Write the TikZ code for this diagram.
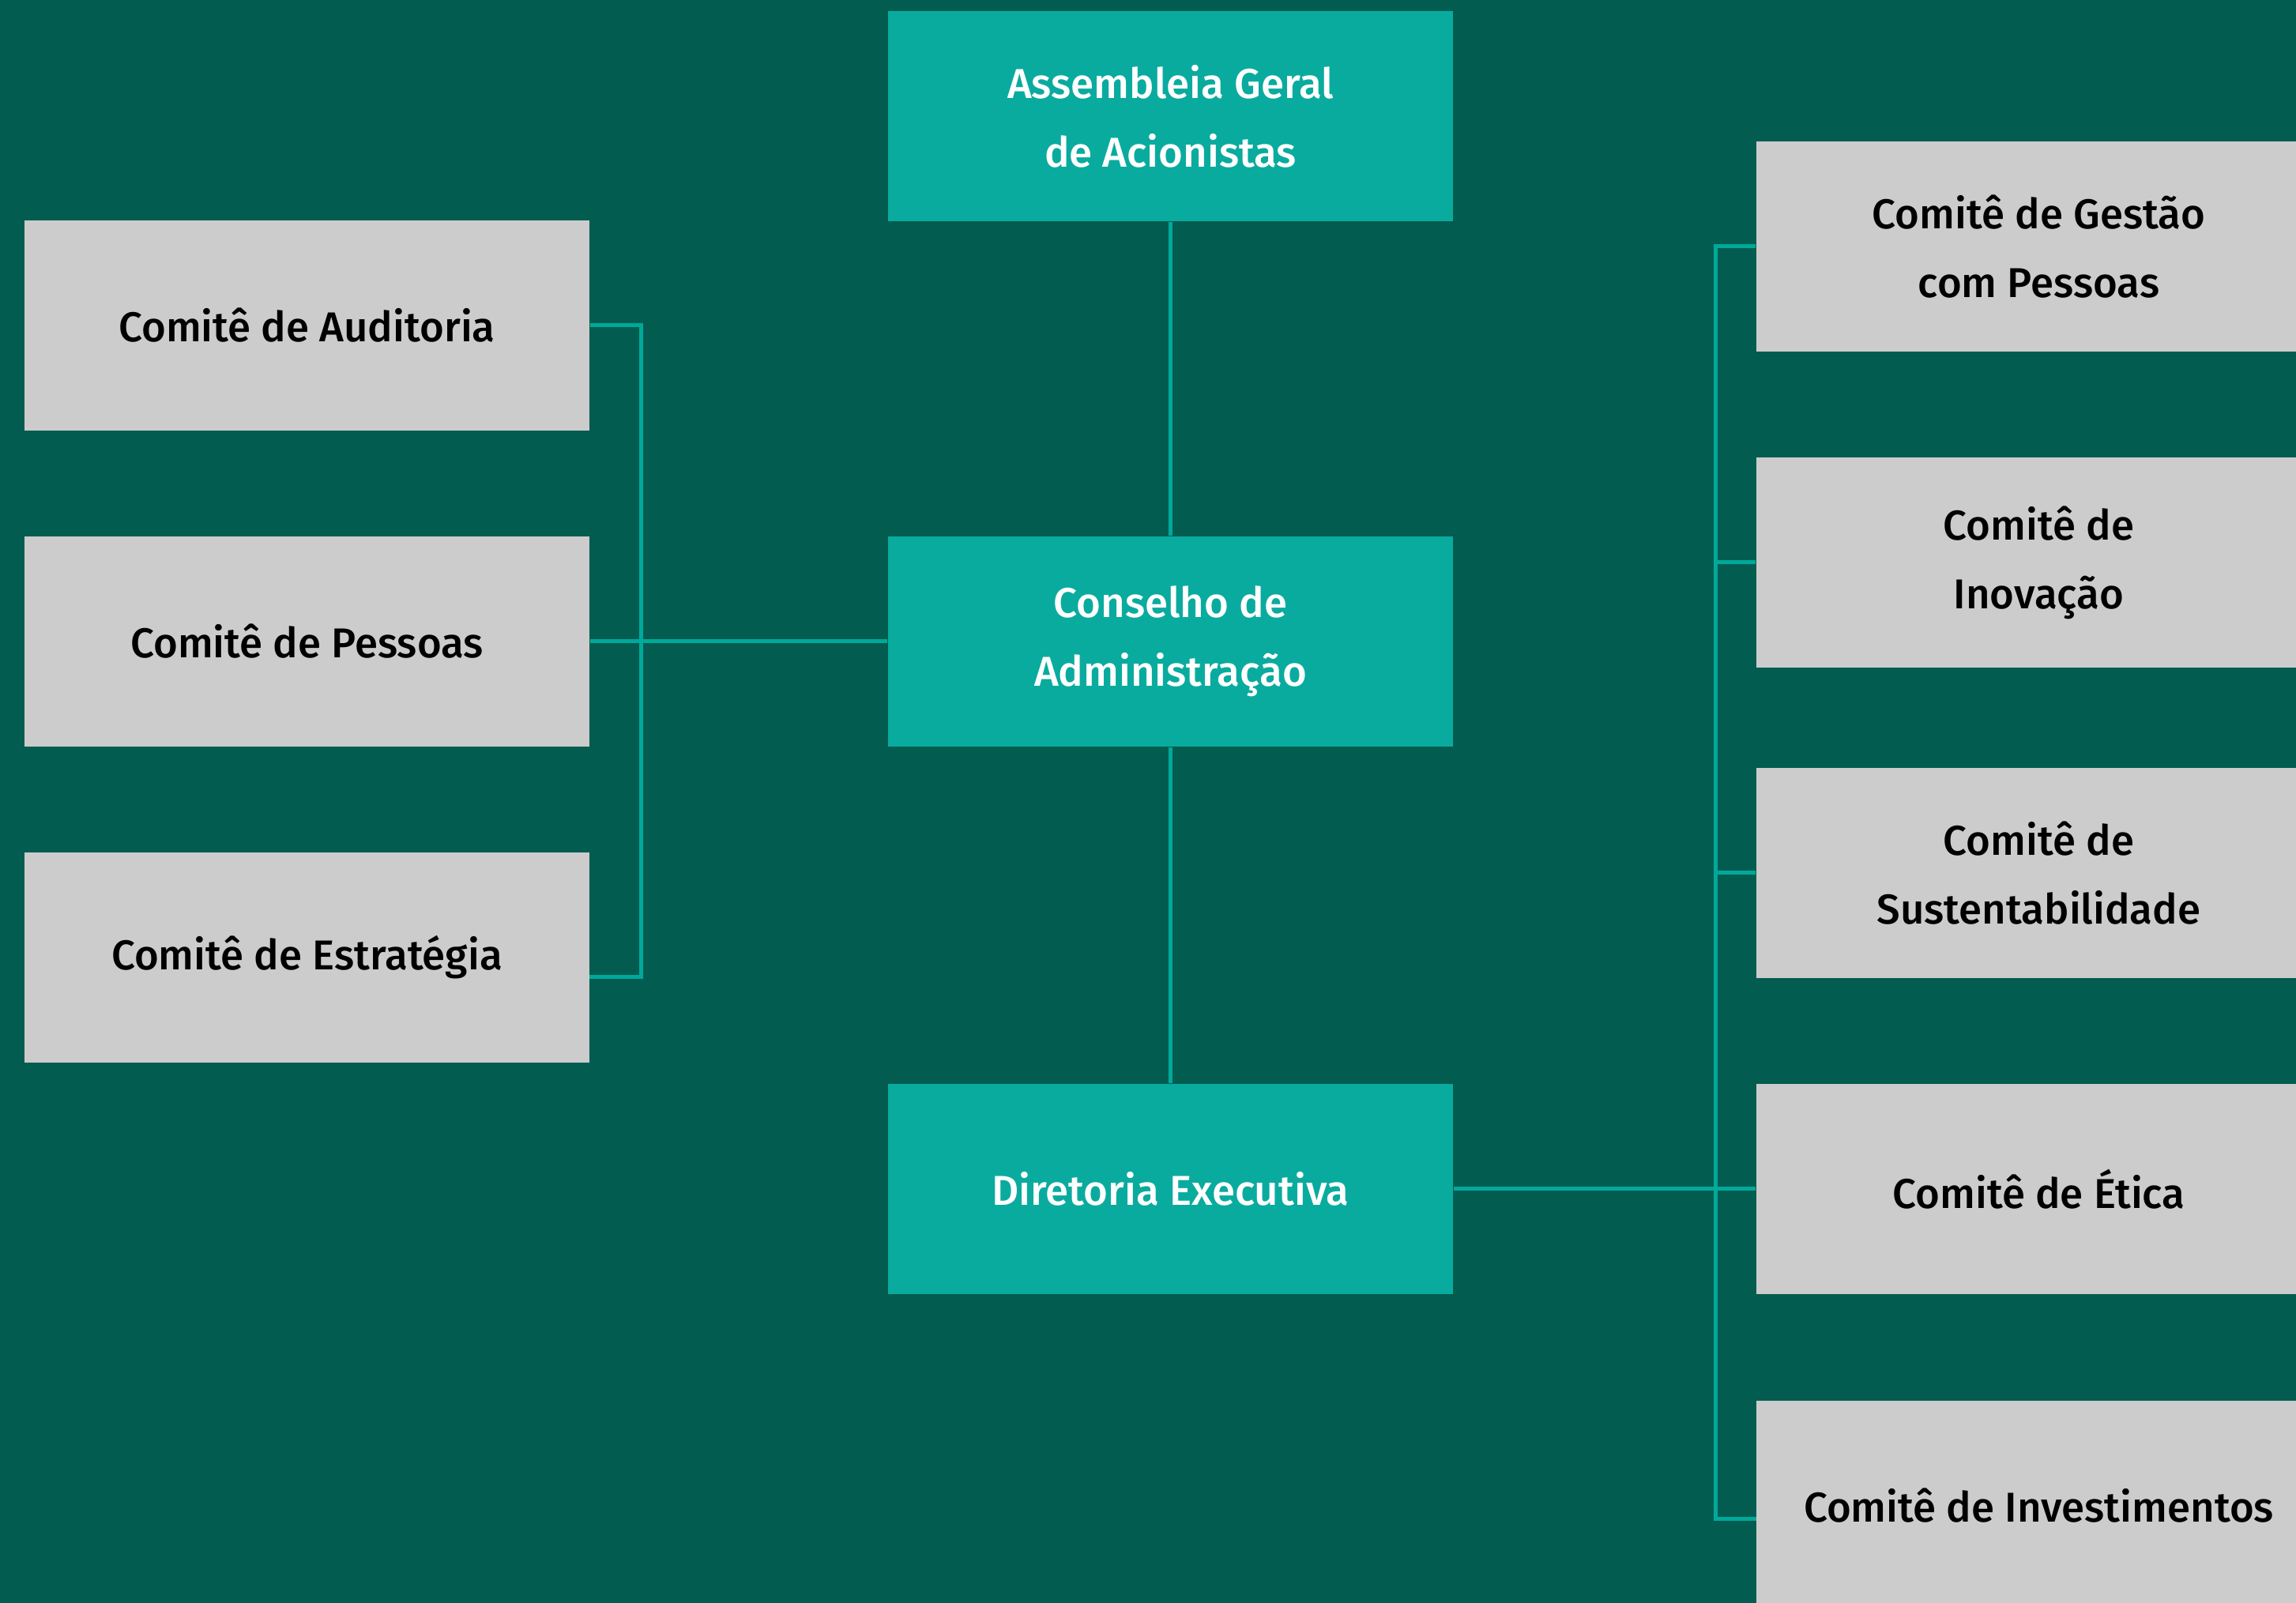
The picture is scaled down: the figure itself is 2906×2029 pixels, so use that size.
\documentclass[tikz,border=0pt]{standalone}
\usepackage{fontspec}
\setmainfont{Fira Sans}[UprightFont={* Medium}]
\definecolor{bgc}{HTML}{025C50}
\definecolor{boxteal}{HTML}{0AAB9F}
\definecolor{boxgray}{HTML}{CCCCCC}
\definecolor{linec}{HTML}{00A99A}
\begin{document}
\begin{tikzpicture}[x=0.25pt,y=-0.25pt,
  basebox/.style={rectangle, inner sep=0pt, minimum width=178.75pt, minimum height=66.5pt, align=center,
    font=\fontsize{13.2}{21.8}\selectfont},
  mainbox/.style={basebox, fill=boxteal, text=white},
  combox/.style={basebox, fill=boxgray, text=black},
  conn/.style={draw=linec, line width=1.25pt}]
\useasboundingbox (0,0) rectangle (2906,2029);
\clip (0,0) rectangle (2906,2029);
\fill[bgc] (0,0) rectangle (2906,2029);
% center column
\node[mainbox] (asm) at (1481.5,147) {Assembleia Geral\\de Acionistas};
\node[mainbox] (cons) at (1481.5,812) {Conselho de\\Administração};
\node[mainbox] (dir) at (1481.5,1505) {Diretoria Executiva};
% left column
\node[combox] (aud) at (388.5,412) {Comitê de Auditoria};
\node[combox] (pes) at (388.5,812) {Comitê de Pessoas};
\node[combox] (est) at (388.5,1212) {Comitê de Estratégia};
% right column
\node[combox] (ges) at (2580.5,312) {Comitê de Gestão\\com Pessoas};
\node[combox] (ino) at (2580.5,712) {Comitê de\\Inovação};
\node[combox] (sus) at (2580.5,1105) {Comitê de\\Sustentabilidade};
\node[combox] (eti) at (2580.5,1505) {Comitê de Ética};
\node[combox] (inv) at (2580.5,1906) {Comitê de Investimentos};
% bus coordinates
\coordinate (lbus) at (811,812);
\coordinate (estc) at (746,1237);
\coordinate (rbus) at (2171.5,1505);
\coordinate (invc) at (2223,1923);
% connectors
\draw[conn] (asm.south) -- (cons.north);
\draw[conn] (cons.south) -- (dir.north);
\draw[conn] (cons.west) -- (pes.east);
\draw[conn] (aud.east) -| (lbus) |- (estc);
\draw[conn] (dir.east) -- (eti.west);
\draw[conn] (ges.west) -| (rbus) |- (invc);
\draw[conn] (ino.west) -- (ino.west -| rbus);
\draw[conn] (sus.west) -- (sus.west -| rbus);
\end{tikzpicture}
\end{document}
